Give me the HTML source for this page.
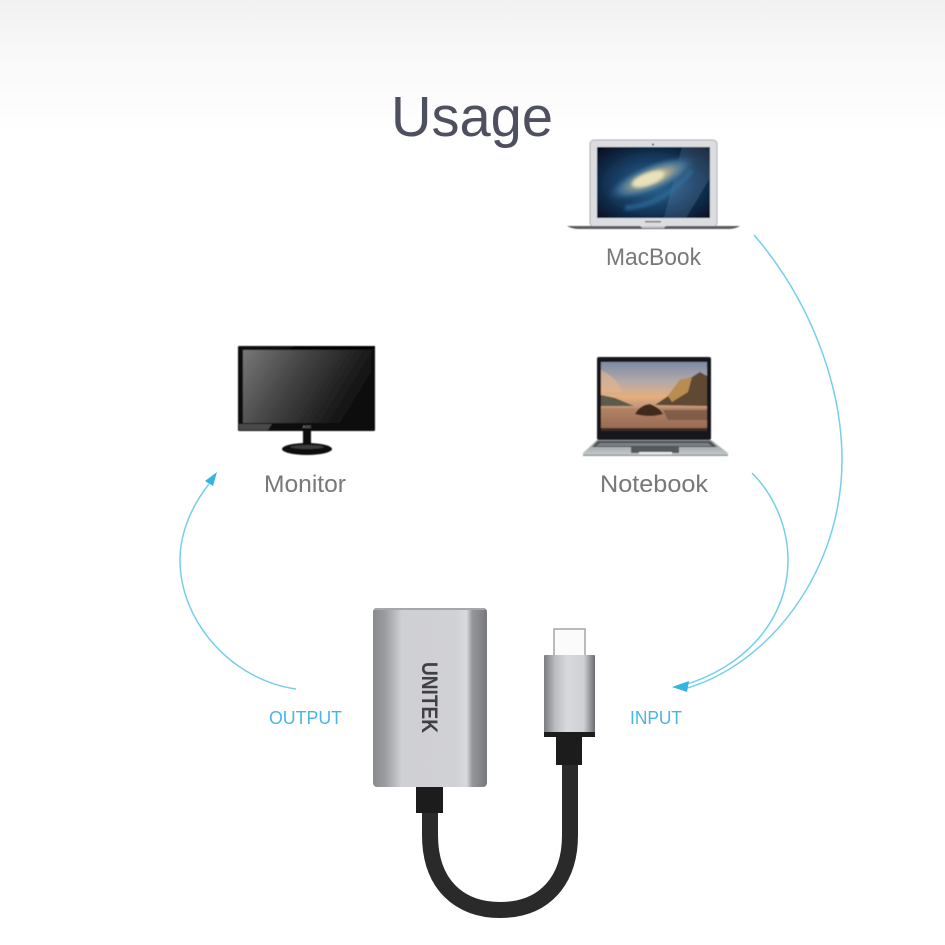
<!DOCTYPE html>
<html><head><meta charset="utf-8"><style>
html,body{margin:0;padding:0;background:#fff}
svg{display:block}
text{font-family:"Liberation Sans",sans-serif}
</style></head><body>
<svg width="945" height="945" viewBox="0 0 945 945" xmlns="http://www.w3.org/2000/svg">
<defs>
<linearGradient id="top" x1="0" y1="0" x2="0" y2="1"><stop offset="0" stop-color="#f1f1f1"/><stop offset=".4" stop-color="#f8f8f8"/><stop offset="1" stop-color="#fff"/></linearGradient>
<linearGradient id="body" x1="0" y1="0" x2="1" y2="0">
<stop offset="0" stop-color="#8a8b8f"/><stop offset=".1" stop-color="#9a9b9f"/><stop offset=".19" stop-color="#b8b9bd"/><stop offset=".25" stop-color="#cfd0d4"/><stop offset=".72" stop-color="#d0d1d5"/><stop offset=".82" stop-color="#d9dade"/><stop offset=".87" stop-color="#96979b"/><stop offset="1" stop-color="#77787c"/></linearGradient>
<linearGradient id="plugb" x1="0" y1="0" x2="1" y2="0">
<stop offset="0" stop-color="#7b7c80"/><stop offset=".22" stop-color="#bcbdc1"/><stop offset=".45" stop-color="#d8d9dd"/><stop offset=".78" stop-color="#cfd0d4"/><stop offset="1" stop-color="#6b6c70"/></linearGradient>
<linearGradient id="cord" x1="0" y1="0" x2="1" y2="0"><stop offset="0" stop-color="#111"/><stop offset=".4" stop-color="#2f2f30"/><stop offset=".6" stop-color="#2f2f30"/><stop offset="1" stop-color="#111"/></linearGradient>
<linearGradient id="mon" x1="0" y1="0" x2="1" y2=".35"><stop offset="0" stop-color="#777"/><stop offset=".45" stop-color="#454545"/><stop offset="1" stop-color="#101010"/></linearGradient>
<linearGradient id="sky" x1="0" y1="0" x2="0" y2="1"><stop offset="0" stop-color="#7d8ba4"/><stop offset=".28" stop-color="#b3a9aa"/><stop offset=".5" stop-color="#e4ae7e"/><stop offset=".62" stop-color="#c99c7c"/><stop offset="1" stop-color="#7f5646"/></linearGradient>
<radialGradient id="space" cx=".5" cy=".52" r=".7"><stop offset="0" stop-color="#2f6a95"/><stop offset=".5" stop-color="#173c62"/><stop offset="1" stop-color="#040d1d"/></radialGradient>
<radialGradient id="gal"><stop offset="0" stop-color="#e9e4ba"/><stop offset=".35" stop-color="#a9ab95"/><stop offset=".7" stop-color="#4a7898" stop-opacity=".8"/><stop offset="1" stop-color="#20507a" stop-opacity="0"/></radialGradient>
<linearGradient id="base" x1="0" y1="0" x2="0" y2="1"><stop offset="0" stop-color="#8f9597"/><stop offset="1" stop-color="#c9cdce"/></linearGradient>
<filter id="b1"><feGaussianBlur stdDeviation="1.6"/></filter>
<filter id="b2"><feGaussianBlur stdDeviation=".5"/></filter>
<filter id="b3"><feGaussianBlur stdDeviation=".3"/></filter>
</defs>
<rect width="945" height="135" fill="url(#top)"/>
<text x="391" y="136" font-size="57" fill="#4e5060" textLength="162" lengthAdjust="spacingAndGlyphs">Usage</text>

<!-- MacBook -->
<g filter="url(#b2)">
<rect x="590" y="140" width="127" height="87" rx="4" fill="#dcdde0" stroke="#aeafb2"/>
<rect x="597" y="147" width="113" height="71" fill="url(#space)"/>
<path d="M682 147H710V178L686 218H664Z" fill="#7a9cb9" opacity=".22"/>
<ellipse cx="652" cy="178" rx="48" ry="15" transform="rotate(-22 652 178)" fill="url(#gal)"/>
<path d="M625 208Q665 205 692 170" stroke="#2f6f9d" stroke-width="5" fill="none" opacity=".7" filter="url(#b1)"/>
<ellipse cx="648" cy="179" rx="17" ry="6" transform="rotate(-20 648 179)" fill="#e8e3bd" filter="url(#b1)"/>
<circle cx="653" cy="144.500" r="1" fill="#333"/>
<rect x="645" y="221" width="16" height="1.500" fill="#777"/>
<path d="M567 226H640L642 228H664L666 226H740Q735 229 728 229H580Q572 229 567 226Z" fill="#5a5b5f"/>
</g>
<text x="606" y="265" font-size="24" fill="#77787a" textLength="95" lengthAdjust="spacingAndGlyphs" filter="url(#b3)">MacBook</text>

<!-- Monitor -->
<g filter="url(#b2)">
<rect x="238" y="346" width="137" height="85" rx="1" fill="#0a0a0a"/>
<rect x="243" y="350" width="128" height="73" fill="url(#mon)"/>
<path d="M239 424H272L268 430H239Z" fill="#4a4a4a"/>
<path d="M295 346H375V349H290Z" fill="#000"/>
<text x="307" y="428" font-size="4" fill="#aaa" text-anchor="middle">AOC</text>
<rect x="303" y="431" width="8" height="14" fill="#111"/>
<ellipse cx="307" cy="449" rx="25" ry="6" fill="#0a0a0a"/>
<ellipse cx="307" cy="447" rx="17" ry="2" fill="#3a3a3a"/>
</g>
<text x="264" y="492" font-size="24" fill="#77787a" textLength="82" lengthAdjust="spacingAndGlyphs" filter="url(#b3)">Monitor</text>

<!-- Notebook -->
<g filter="url(#b2)">
<rect x="597" y="357" width="114" height="83" rx="2" fill="#17181a"/>
<rect x="601" y="362" width="106" height="69" fill="url(#sky)"/>
<path d="M601 370Q618 378 622 392H601Z" fill="#e7b58a" opacity=".6"/>
<path d="M655 405L668 396 680 380 692 377 700 372 707 376V406Z" fill="#5f4a30"/>
<path d="M668 396L680 380 692 377 688 392 672 402Z" fill="#b98d50"/>
<path d="M601 395L615 398 634 406H601Z" fill="#5d5a4c"/>
<path d="M601 408H707V431H601Z" fill="#a8765a" opacity=".55"/>
<path d="M663 410H707V420H668Z" fill="#6f5140" opacity=".7"/>
<path d="M635 414Q640 405 650 404 660 408 663 414 650 418 635 414Z" fill="#3f2c1e"/>
<rect x="601" y="428" width="106" height="3" fill="#3a2a25"/>
<path d="M597 440H711L728 453V456H583V453Z" fill="url(#base)"/>
<path d="M598 441H710L717 447H592Z" fill="#4a4f52"/>
<path d="M600 443H708L712 446H596Z" fill="#7c8285"/>
<rect x="631" y="447" width="48" height="6" fill="#55595c"/>
<rect x="639" y="452" width="33" height="3" fill="#e6e8e8"/>
<rect x="583" y="454.500" width="145" height="1.500" fill="#959a9c"/>
</g>
<text x="600" y="492" font-size="24" fill="#77787a" textLength="108" lengthAdjust="spacingAndGlyphs" filter="url(#b3)">Notebook</text>

<!-- Connectors -->
<g fill="none" stroke="#74cfea" stroke-width="1.500">
<path d="M296 689C232 680 180 622 180 560C180 530 194 503 209 484"/>
<path d="M754 235C810 300 842 385 842 460C842 570 770 665 684 689"/>
<path d="M752 473C776 497 788 530 788 560C788 622 742 668 684 685"/>
</g>
<path d="M217 472L205 481 213 486Z" fill="#35b4e3"/>
<path d="M672 687L689 681 687 692Z" fill="#35b4e3"/>
<text x="269" y="724" font-size="18" fill="#49b6e2" textLength="73" lengthAdjust="spacingAndGlyphs" filter="url(#b3)">OUTPUT</text>
<text x="630" y="724" font-size="18" fill="#49b6e2" textLength="52" lengthAdjust="spacingAndGlyphs" filter="url(#b3)">INPUT</text>

<!-- Adapter -->
<g filter="url(#b3)">
<path d="M430 805V835C430 885 460 910 500 910C545 910 570 880 570 835V760" fill="none" stroke="#2a2a2b" stroke-width="16"/>
<rect x="416" y="785" width="27" height="28" fill="#1a1a1a"/>
<rect x="556" y="735" width="26" height="30" fill="#1a1a1a"/>
<rect x="373" y="608" width="114" height="179" rx="4" fill="url(#body)"/>
<rect x="375" y="608" width="110" height="2" fill="#a6a7aa"/>
<text transform="translate(422,662) rotate(90)" font-size="22" font-weight="bold" fill="#3f4043" textLength="71" lengthAdjust="spacingAndGlyphs">UNITEK</text>
<path d="M554 655V629H585V655" fill="#fbfbfb" stroke="#a5a5a7" stroke-width="1.500"/>
<rect x="544" y="655" width="51" height="78" rx="1" fill="url(#plugb)"/>
<rect x="544" y="732" width="51" height="5" fill="#1a1a1a"/>
</g>
</svg>
</body></html>
